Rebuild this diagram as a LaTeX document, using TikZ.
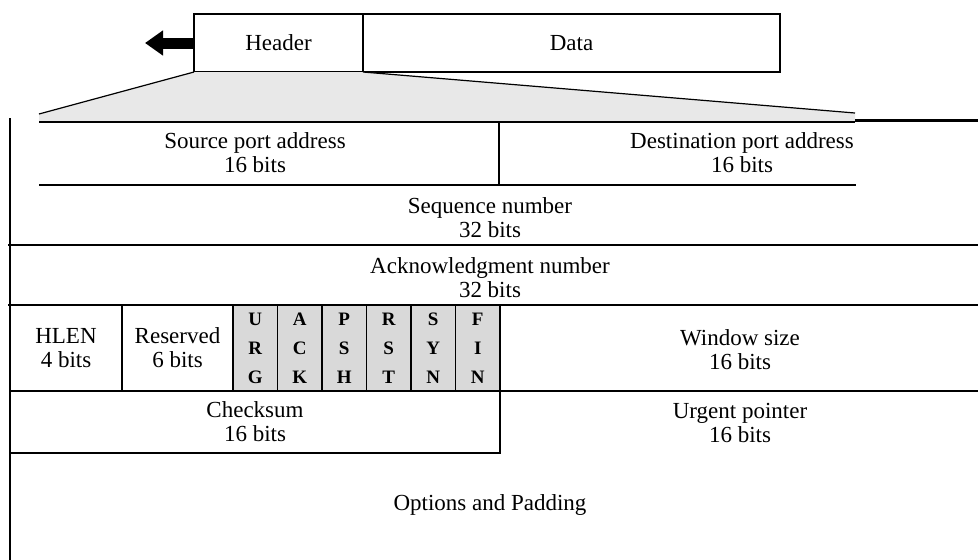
\documentclass[tikz,border=0pt]{standalone}
\usepackage{fontspec}
\setmainfont{Liberation Serif}
\usetikzlibrary{arrows.meta}

\tikzset{
  field/.style={align=center, font=\fontsize{23}{24}\selectfont},
  cell/.style={field, draw, line width=1.2pt, inner sep=0pt, outer sep=0pt, minimum height=86pt},
  flagbox/.style={cell, fill=gray!30, minimum width=44.5pt, font=\bfseries\fontsize{19}{29}\selectfont},
  rule/.style={line width=1.2pt},
}

\begin{document}
\begin{tikzpicture}[x=1pt, y=-1pt, >=Stealth]
				\useasboundingbox (0,0) rectangle (978,560);
				% segment on top
				\node[cell, minimum width=169pt, minimum height=58pt] (hdr) at (278.5,43) {Header};
				\node[cell, minimum width=417pt, minimum height=58pt, anchor=west] (data) at (hdr.east) {Data};
				\coordinate (tip) at (145,43);
				\draw[line width=11pt, -{Triangle[length=18pt,width=24pt]}] (hdr.west) -- (tip);
				% shaded wedge
				\fill[gray!18] (hdr.south west) -- (hdr.south east) -- (855,113) -- (855,122) -- (39,122) -- (39,114) -- cycle;
				\draw[rule] (39,114) -- (hdr.south west);
				\draw[rule] (hdr.south east) -- (855,113);
				% table rules
				\draw[rule] (10,118) -- (10,560);
				\draw[rule] (39,122) -- (855,122);
				\draw[line width=2.5pt] (855,120.5) -- (978,120.5);
				\draw[rule] (499,122) -- (499,185);
				\draw[rule] (39,185) -- (856,185);
				\draw[rule] (8,245) -- (978,245);
				\draw[rule] (8,305) -- (978,305);
				\draw[rule] (500,391) -- (978,391);
				% fields
				\node[field] (srcport) at (255,153) {Source port address\\16 bits};
				\node[field] (dstport) at (742,153) {Destination port address\\16 bits};
				\node[field] (seqnum) at (490,218) {Sequence number\\32 bits};
				\node[field] (acknum) at (490,278) {Acknowledgment number\\32 bits};
				\node[cell, minimum width=112pt] (hlen) at (66,348) {HLEN\\4 bits};
				\node[cell, minimum width=111pt] (rsvd) at (177.5,348) {Reserved\\6 bits};
				\foreach \nm/\txt [count=\i from 0] in {urg/{U\\R\\G}, ack/{A\\C\\K}, psh/{P\\S\\H}, rst/{R\\S\\T}, syn/{S\\Y\\N}, fin/{F\\I\\N}}
					\node[flagbox] (\nm) at ({255.25+44.5*\i},348) {\txt};
				\node[field] (winsize) at (740,350) {Window size\\16 bits};
				\node[cell, minimum width=490pt, minimum height=62pt] (chksum) at (255,422) {Checksum\\16 bits};
				\node[field] (urgptr) at (740,423) {Urgent pointer\\16 bits};
				\node[field] (opts) at (490,505) {Options and Padding};
\end{tikzpicture}
\end{document}
